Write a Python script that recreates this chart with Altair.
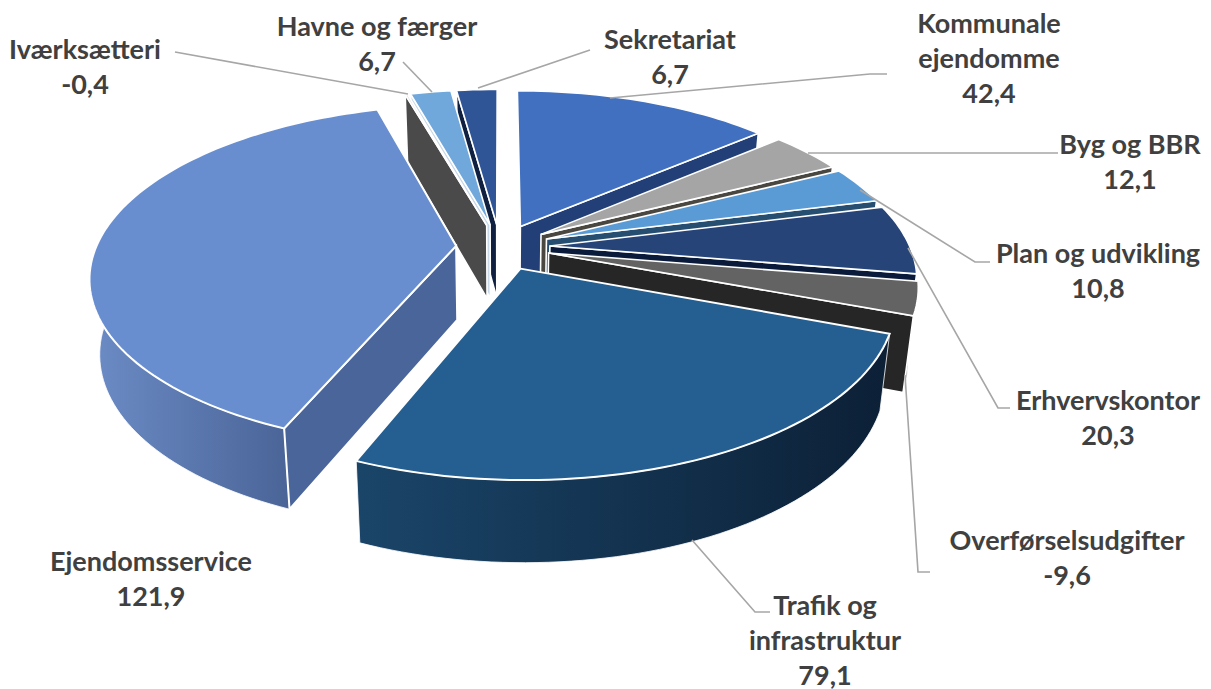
import math
import altair as alt
import pandas as pd

names = [["Kommunale", "ejendomme"], ["Byg og BBR"], ["Plan og udvikling"], ["Erhvervskontor"],
         ["Overførselsudgifter"], ["Trafik og", "infrastruktur"], ["Ejendomsservice"],
         ["Iværksætteri"], ["Havne og færger"], ["Sekretariat"]]
values = [42.4, 12.1, 10.8, 20.3, -9.6, 79.1, 121.9, -0.4, 6.7, 6.7]
explode = [50, 50, 50, 50, 50, 50, 44, 50, 50, 50]
top_colors = ["#4070bf", "#a5a5a5", "#5b9bd5", "#264478", "#636363", "#255e91", "#698ed0", "#d9d9d9", "#70a8dc", "#2f5597"]
side_colors = ["#223f78", "#4a4640", "#264e70", "#0a1a3a", "#262626", "#0f2b4a", "#4a6599", "#4a4a4a", "#c8d8e8", "#0f2040"]
wall_from = ["#223f78", "#4a4640", "#264e70", "#0a1a3a", "#8a8a8a", "#1a4569", "#6c8cc6", "#4a4a4a", "#c8d8e8", "#0f2040"]
wall_to = ["#223f78", "#4a4640", "#264e70", "#0a1a3a", "#8a8a8a", "#0c2036", "#4a6497", "#4a4a4a", "#c8d8e8", "#0f2040"]
# page-position anchors of labels (first line centre x, first line y) and leader elbows
label_pos = [(989, 25), (1130, 146), (1098, 255), (1108, 402), (1067, 542), (825, 607), (151, 563), (85, 51), (377, 28), (670, 41)]
leaders = [[(610, 98), (870, 74), (887, 74)], [(808, 153), (1058, 153)], [(860, 190), (975, 262), (990, 262)],
           [(908, 248), (998, 408), (1010, 408)], [(905, 375), (918, 572), (930, 572)], [(692, 540), (755, 612), (770, 612)],
           [], [(408, 94), (175, 52)], [(432, 92), (403, 62)], [(478, 88), (590, 50)]]

CX, CY, R, K, P, H = 500, 247, 360, 0.461, 0.175, 74
FONT = "Lato"
TOTAL = sum(abs(v) for v in values)

def ground(a_deg, r, mid, d):
    a, m = math.radians(a_deg), math.radians(mid)
    return d * math.sin(m) + r * math.sin(a), -d * math.cos(m) - r * math.cos(a)

def proj(X, Y, low=False):
    s = 1 / (1 - P * Y / R)
    x, y = CX + X * s, CY + K * Y * s
    if low:
        x = CX + (x - CX) * 0.975
        y = y + H * s ** 0.5
    return [x - 8, y - 8]

def poly(pts):
    return {"type": "Feature", "properties": {}, "geometry": {"type": "Polygon", "coordinates": [pts + [pts[0]]]}}

def line(pts):
    return {"type": "Feature", "properties": {}, "geometry": {"type": "LineString", "coordinates": [[x - 8, y - 8] for x, y in pts]}}

def grad(c0, c1):
    return alt.LinearGradient(gradient="linear", x1=0, x2=1, y1=0, y2=0,
                              stops=[alt.GradientStop(offset=0, color=c0), alt.GradientStop(offset=1, color=c1)])

def shape(feature, **mark):
    data = alt.InlineData(values={"type": "FeatureCollection", "features": [feature]},
                          format=alt.DataFormat(type="json", property="features"))
    return alt.Chart(data).mark_geoshape(**mark).project(type="identity", scale=1, translate=[0, 0])

spans, a = [], 0.0
for v in values:
    spans.append((a, a + abs(v) / TOTAL * 360))
    a = spans[-1][1]

layers = []
for i in [0, 1, 2, 3, 4, 9, 8, 7, 6, 5]:
    a0, a1 = spans[i]
    d = explode[i]
    mid = (a0 + a1) / 2
    steps = max(2, int((a1 - a0) / 1.5))
    angs = [a0 + (a1 - a0) * j / steps for j in range(steps + 1)]
    apex = ground(0, 0, mid, d)
    edge = dict(stroke="#ffffff", strokeWidth=2.0 if i in (5, 6) else 1.6)
    vis = [t for t in angs if 80 <= t <= 285]
    if len(vis) > 1:
        pts = [proj(*ground(t, R, mid, d)) for t in vis] + [proj(*ground(t, R, mid, d), low=True) for t in reversed(vis)]
        layers.append(shape(poly(pts), fill=grad(wall_from[i], wall_to[i]), stroke="#ffffff", strokeWidth=0.8))
    for t, face in ((a0, math.sin(math.radians(a0)) < -1e-6), (a1, math.sin(math.radians(a1)) > 1e-6)):
        if face:
            p = ground(t, R, mid, d)
            pts = [proj(*apex), proj(*p), proj(*p, low=True), proj(*apex, low=True)]
            layers.append(shape(poly(pts), fill=side_colors[i], **edge))
    pts = [proj(*apex)] + [proj(*ground(t, R, mid, d)) for t in angs]
    layers.append(shape(poly(pts), fill=top_colors[i], **edge))

for pts in leaders:
    if pts:
        layers.append(shape(line(pts), fill="transparent", filled=False, stroke="#a6a6a6", strokeWidth=1.6))

rows = []
for lab, v, (x, y) in zip(names, values, label_pos):
    lines = lab + [f"{v:.1f}".replace(".", ",")]
    for j, t in enumerate(lines):
        rows.append({"t": t, "x": x - 8, "y": y - 8 + j * 35})
text = alt.Chart(pd.DataFrame(rows)).mark_text(font=FONT, fontWeight="bold", fontSize=27, color="#404040",
                                               align="center", baseline="middle").encode(
    x=alt.X("x:Q", scale=None), y=alt.Y("y:Q", scale=None), text="t:N")
layers.append(text)

chart = alt.layer(*layers).properties(width=1195, height=681, padding=0, background="#ffffff",
                                      autosize=alt.AutoSizeParams(type="none")).configure_view(stroke=None)
chart.save("out.html", embed_options={"renderer": "svg", "actions": False})
